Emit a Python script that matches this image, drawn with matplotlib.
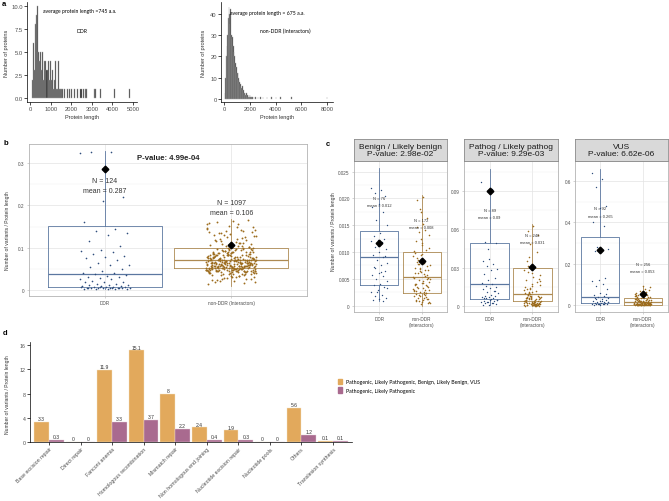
import numpy as np
import matplotlib
matplotlib.use('Agg')
import matplotlib.pyplot as plt
from matplotlib.patches import Patch

plt.rcParams['font.family'] = ['Liberation Sans', 'DejaVu Sans']

W, H = 669, 502


########################################################################
# data
########################################################################
# panel a : protein length histograms (bin start, count), bins of 50 aa
ddr_bins = [100, 150, 200, 250, 300, 350, 400, 450, 500, 550, 600, 650, 700, 750, 800,
            850, 900, 950, 1000, 1050, 1100, 1150, 1200, 1250, 1300, 1350, 1400, 1450, 1500, 1550,
            1650, 1800, 1900, 2000, 2150, 2300, 2450, 2550, 2650, 2700, 3100, 3150, 3400, 4100, 4800]
ddr_counts = [2, 6, 3, 8, 9, 10, 5, 4, 5, 3, 5, 2, 4, 4, 3,
              4, 2, 4, 2, 3, 1, 2, 4, 1, 1, 4, 1, 1, 1, 1,
              1, 1, 1, 1, 1, 1, 1, 1, 1, 1, 1, 1, 1, 1, 1]

non_bins = [50, 100, 150, 200, 250, 300, 350, 400, 450, 500, 550, 600, 650, 700, 750,
            800, 850, 900, 950, 1000, 1050, 1100, 1150, 1200, 1250, 1300, 1350, 1400, 1450, 1500,
            1550, 1600, 1650, 1700, 1750, 1800, 1850, 1900, 1950, 2000, 2050, 2100,
            2200, 2300, 2400, 2600, 2800, 3000, 3300, 3650, 4000, 4350, 5200, 7950]
non_counts = [3, 10, 20, 25, 30, 38, 43, 40, 35, 42, 30, 28, 29, 25, 22,
              20, 17, 15, 15, 12, 12, 10, 9, 8, 7, 6, 5, 6, 4, 4,
              3, 3, 2, 3, 2, 2, 1, 2, 1, 2, 1, 1,
              1, 1, 1, 1, 1, 1, 1, 1, 1, 1, 1, 1]

# panel b : variants / protein length, all classes (values x 1e-3)
b_ddr = """323 327 326 220 210 160 145 140 135 130 115 105 95 93 90 85 80 78 75 70
65 60 60 55 50 45 40 40 38 35 33 30 30 28 25 25 22 20 20 18 15 15 13 12 12 10 10 9 8 8
7 7 6 6 5 5 5 4 4 4 3 3 3 2 2 6 5 7 8 4"""
b_non = """67 45 88 102 56 71 39 94 128 61 52 83 47 76 110 58 64 91 35 73
49 142 68 55 80 97 43 62 117 74 51 86 38 69 59 105 48 77 133 65
54 92 41 70 84 57 99 46 63 120 72 53 87 36 66 79 150 44 60 95
75 50 108 42 68 81 57 125 47 73 62 89 34 55 98 70 45 113 64 52
85 40 71 59 138 48 78 66 93 53 61 44 101 69 57 82 37 74 50 119
63 88 46 58 76 96 43 67 54 131 72 49 84 60 39 107 65 51 90 56
79 42 68 155 47 74 61 87 53 100 58 45 70 115 63 83 49 66 35 94
55 78 44 62 127 71 52 86 59 41 103 67 48 75 57 91 64 146 50 73
38 81 60 111 54 69 46 97 65 53 136 77 43 62 89 56 72 104 48 66
58 85 40 74 123 51 63 95 47 70 59 80 33 68 109 55 76 45 92 61
52 160 67 44 83 57 71 99 49 64 118 54 78 42 87 60 73 50 140 65
56 96 46 69 82 53 112 62 75 39 90 58 66 48 121 72 55 84 51 63
27 31 22 18 25 29 14 33 21 26 30 24 16 28 19 32 23 165 152 158
143 135 148 162 130 126 139 144 156 134
64 58 71 49 83 55 77 62 44 90 68 52 73 60 47 86 57 66 41 79
54 70 63 48 95 59 75 51 67 43 82 61 56 72 46 88 65 53 78 50"""
b_stats = {'DDR': dict(q1=0.007, med=0.038, q3=0.151, whislo=0.002, whishi=0.329, mean=0.287, n=124),
           'non': dict(q1=0.052, med=0.071, q3=0.099, whislo=0.010, whishi=0.168, mean=0.106, n=1097)}
b_pvalue = '4.99e-04'

# panel c : per class (values x 1e-3)
c_titles = ['Benign / Likely benign', 'Pathog / Likely pathog', 'VUS']
c_pvalues = ['2.98e-02', '9.29e-03', '6.62e-06']
c_ddr = [
    """22 21.5 21 20.5 19 18.5 17.5 16 15 13.5 13 12.5 12.2 12 11.8 11 10.5 10 9.5 9 8.5 8 7.5 7
    6.5 6 5.8 5.5 5 4.5 4 3.8 3.5 3 2.5 2 1.8 1.5 1.2 1 0.8 2.5 3.2 6.2 7.2 9.2 11.2""",
    """97 92 50 49 37 35 33 31 29 28 25 22 20 18 17 16 15 14 13 12 11 10 9 8 8 7 7 6 6 5 5
    4 4 3 3 2 2 1.5 1 1 2.5 3.5 4.5 5.5 6.5 12 45""",
    """640 610 570 480 470 400 380 280 270 265 260 130 120 115 100 90 75 60 50 45 40 35 30 28
    25 20 18 15 13 12 10 9 8 7 6 5 4 3 2 1 4 6 12 20 35 55""",
]
c_non = [
    """5.4 2.1 8.9 1.3 12.5 3.8 6.7 0.9 4.4 15.2 2.7 7.3 1.8 10.1 5.9 3.2 0.4 9.6 6.1 2.3 13.8 4.9
    1.1 8.2 3.6 17.4 5.1 2.9 7.8 0.7 11.3 4.1 1.6 6.4 9.2 2.5 14.6 3.4 0.3 7.1 5.6 1.9 10.8 4.6
    2.2 16.3 6.9 3.0 1.4 8.6 5.2 0.6 12.1 3.9 2.6 7.5 4.3 19.8 1.2 6.3 9.9 2.0 4.8 13.2 3.3 0.8
    5.7 18.1 2.8 8.0 1.5 6.6 11.7 4.0 2.4 7.7 0.5 20.3 3.5 5.0 9.4 1.7 14.1 6.0 2.9 4.2 1.0 10.4 7.0 3.1""",
    """2.1 0.5 8.4 1.3 15.6 4.2 0.8 11.2 3.1 22.5 6.3 1.0 5.5 28.4 0.3 9.1 2.6 17.3 4.8 0.6 13.5 7.2
    1.9 35.2 3.6 0.4 10.2 5.1 2.3 19.8 0.9 6.8 42.1 1.5 12.4 3.3 8.9 0.2 25.7 4.5 1.2 7.6 16.1 2.8
    0.7 55.3 5.9 3.9 1.1 9.8 21.4 0.5 6.1 2.4 14.2 4.0 1.7 31.6 8.2 3.0 0.3 11.9 5.3 1.4 62.7 2.0
    18.5 7.0 0.9 4.6 26.9 1.8 10.6 3.5 0.6 48.2 6.5 2.2 13.1 0.4 8.0 4.3 1.6 38.4 5.7 2.7 20.6 0.8
    9.5 3.7 1.3 58.9 7.4 2.5 15.0 0.2 6.0 24.3 4.1 1.0""",
    """3.2 12.5 0.8 25.1 6.4 41.3 1.9 18.7 9.2 2.6 33.8 14.1 0.5 52.6 7.3 21.9 4.4 1.2 29.5 11.0
    68.2 3.8 16.3 0.9 37.4 8.6 2.1 24.2 5.5 85.1 13.6 1.5 45.9 19.4 7.9 0.4 31.2 10.3 3.0 58.7
    22.8 6.1 1.1 15.2 39.6 4.9 0.7 27.3 9.7 2.4 74.5 17.5 5.8 1.6 35.1 12.0 0.3 48.4 20.6 8.1
    2.9 63.3 14.8 4.2 1.0 26.4 10.9 0.6 43.7 6.7 18.1 2.2 90.2 30.5 7.5 1.4 23.0 11.8 3.5 0.2
    55.0 16.9 5.2 1.8 38.8 13.2 0.9 28.1 8.8 3.3 79.6 21.5 6.6 1.3 46.5 15.7 4.6 0.5 33.0 10.0""",
]
c_stats_ddr = [dict(q1=0.0039, med=0.0091, q3=0.0140, whislo=0.0009, whishi=0.0257, mean=0.0117, n=76),
               dict(q1=0.0055, med=0.0172, q3=0.0493, whislo=0.0005, whishi=0.107, mean=0.090, n=89),
               dict(q1=0.010, med=0.038, q3=0.329, whislo=0.001, whishi=0.659, mean=0.265, n=92)]
c_stats_non = [dict(q1=0.0023, med=0.0054, q3=0.0100, whislo=0.0, whishi=0.0207, mean=0.0083, n=172),
               dict(q1=0.0040, med=0.0094, q3=0.0298, whislo=0.0, whishi=0.064, mean=0.0305, n=248),
               dict(q1=0.0, med=0.013, q3=0.035, whislo=0.0, whishi=0.090, mean=0.053, n=256)]
c_mean_txt_ddr = ['0.012', '0.09', '0.265']
c_mean_txt_non = ['0.008', '0.031', '0.053']

# panel d : variants / protein length per pathway
pathways = ['Base excision repair', 'Direct repair', 'Fanconi anemia', 'Homologous recombination',
            'Mismatch repair', 'Non homologous end joining', 'Nucleotide excision repair',
            'Nucleotide pools', 'Others', 'Translesion synthesis']
all_classes = [3.3, 0, 11.9, 15.1, 8, 2.4, 1.9, 0, 5.6, 0.1]
path_classes = [0.3, 0, 3.3, 3.7, 2.2, 0.4, 0.3, 0, 1.2, 0.1]


########################################################################
# helpers
########################################################################
fig = plt.figure(figsize=(W / 100, H / 100), dpi=100)


def px_axes(x0, y0, x1, y1):
    return fig.add_axes([x0 / W, 1 - y1 / H, (x1 - x0) / W, (y1 - y0) / H])


def ftext(x, y, s, **kw):
    fig.text(x / W, 1 - y / H, s, **kw)


def parse(s):
    return np.array([float(v) for v in s.split()]) / 1000.0


def jitter(n, spread=0.4):
    return ((np.arange(n) * 0.6180339) % 1 - 0.5) * spread


def classic(ax):
    for k in ['top', 'right']:
        ax.spines[k].set_visible(False)
    for k in ['left', 'bottom']:
        ax.spines[k].set_linewidth(0.5)
    ax.tick_params(length=2, width=0.5, labelsize=4.2, labelcolor='#4d4d4d', pad=1)


def light(ax, yt, ylab, ylim, minor, xlabels, lsize):
    ax.set_xlim(0.4, 2.6)
    ax.set_ylim(*ylim)
    ax.set_yticks(yt)
    ax.set_yticklabels(ylab)
    ax.set_yticks(minor, minor=True)
    ax.set_xticks([1, 2])
    ax.set_xticklabels(xlabels)
    ax.grid(which='major', color='#e3e3e3', lw=0.5)
    ax.grid(which='minor', color='#f0f0f0', lw=0.35)
    ax.set_axisbelow(True)
    for s in ax.spines.values():
        s.set_color('#b3b3b3')
        s.set_linewidth(0.6)
    ax.tick_params(which='both', length=1.5, width=0.4, color='#b3b3b3', labelsize=lsize,
                   labelcolor='#4d4d4d', pad=1.5)
    ax.tick_params(which='minor', length=0)


ddr_box = '#5b77a0'
non_box = '#ad8a52'
ddr_pt = '#2f4e7c'
non_pt = '#9c6c1e'


def draw_boxes(ax, vals_ddr, vals_non, st_ddr, st_non, psize):
    for pos, st, col in [(1, st_ddr, ddr_box), (2, st_non, non_box)]:
        s = dict(q1=st['q1'], med=st['med'], q3=st['q3'], whislo=st['whislo'],
                 whishi=st['whishi'], fliers=[])
        ax.bxp([s], positions=[pos], widths=0.9, showcaps=False, showfliers=False,
               boxprops=dict(color=col, lw=0.6), whiskerprops=dict(color=col, lw=0.6),
               medianprops=dict(color=col, lw=0.9), manage_ticks=False)
    ax.scatter(1 + jitter(len(vals_ddr)), vals_ddr, s=psize, c=ddr_pt, lw=0, zorder=3)
    ax.scatter(2 + jitter(len(vals_non)), vals_non, s=psize * 1.3, c=non_pt, lw=0, zorder=3)
    ax.plot([1, 2], [st_ddr['mean'], st_non['mean']], ls='none', marker='D', ms=3.4,
            color='black', zorder=4)


########################################################################
# panel a
########################################################################
ax = px_axes(27, 3, 137, 103)
ax.bar(ddr_bins, ddr_counts, width=50, align='edge', color='#2e2e2e', edgecolor='#a6a6a6', lw=0.3)
ax.set_xlim(-146, 5194)
ax.set_ylim(-0.43, 10.43)
ax.set_xticks([0, 1000, 2000, 3000, 4000, 5000])
ax.set_yticks([0, 2.5, 5, 7.5, 10])
ax.set_yticklabels(['0.0', '2.5', '5.0', '7.5', '10.0'])
classic(ax)
ftext(43, 11, 'average protein length =745 a.a.', fontsize=3.7, va='center', family=['Lato', 'DejaVu Sans'])
ftext(82, 32, 'DDR', fontsize=3.7, va='center', ha='center', family=['Lato', 'DejaVu Sans'])
ftext(82, 118, 'Protein length', fontsize=4, ha='center', va='center', color='#333333')
ftext(7, 53, 'Number of proteins', fontsize=4, rotation=90, ha='center', va='center', color='#333333')

ax = px_axes(221, 3, 333, 103)
ax.bar(non_bins, non_counts, width=50, align='edge', color='#2e2e2e', edgecolor='#a6a6a6', lw=0.3)
ax.set_xlim(-233, 8450)
ax.set_ylim(-1.4, 45.5)
ax.set_xticks([0, 2000, 4000, 6000, 8000])
ax.set_yticks([0, 10, 20, 30, 40])
classic(ax)
ftext(230, 13, 'average protein length = 675 a.a.', fontsize=3.7, va='center', family=['Lato', 'DejaVu Sans'])
ftext(285, 31, 'non-DDR (Interactors)', fontsize=3.7, va='center', ha='center', family=['Lato', 'DejaVu Sans'])
ftext(277, 118, 'Protein length', fontsize=4, ha='center', va='center', color='#333333')
ftext(203, 53, 'Number of proteins', fontsize=4, rotation=90, ha='center', va='center', color='#333333')

ftext(2, 4, 'a', fontsize=5.5, weight='bold', va='center')

########################################################################
# panel b
########################################################################
ax = px_axes(29, 145, 307, 297)
light(ax, [0, 0.1, 0.2, 0.3], ['0', '0.1', '0.2', '0.3'], (-0.014, 0.345),
      [0.05, 0.15, 0.25], ['DDR', 'non-DDR (Interactors)'], 3.4)
draw_boxes(ax, parse(b_ddr), parse(b_non), b_stats['DDR'], b_stats['non'], 1.4)
ax.text(1.5, 0.312, 'P-value: ' + b_pvalue, ha='center', va='center', fontsize=5.6, weight='bold', color='#222222')
ax.text(1, 0.258, 'N = %d' % b_stats['DDR']['n'], ha='center', va='center', fontsize=5, color='#333333', zorder=5)
ax.text(1, 0.234, 'mean = %.3f' % b_stats['DDR']['mean'], ha='center', va='center', fontsize=5, color='#333333', zorder=5)
ax.text(2, 0.208, 'N = %d' % b_stats['non']['n'], ha='center', va='center', fontsize=5, color='#333333', zorder=5)
ax.text(2, 0.184, 'mean = %.3f' % b_stats['non']['mean'], ha='center', va='center', fontsize=5, color='#333333', zorder=5)
ftext(8, 231, 'Number of variants / Protein length', fontsize=3.6, rotation=90, ha='center', va='center', color='#333333')
ftext(4, 144, 'b', fontsize=5.5, weight='bold', va='center')

########################################################################
# panel c
########################################################################
facet_x = [(354, 447), (464, 558), (575, 668)]
c_ylims = [(-0.0012, 0.027), (-0.0047, 0.1136), (-0.034, 0.697)]
c_yticks = [[0, 0.005, 0.01, 0.015, 0.02, 0.025], [0, 0.03, 0.06, 0.09], [0, 0.2, 0.4, 0.6]]
c_ylabels = [['0', '0.005', '0.010', '0.015', '0.020', '0.025'], ['0', '0.03', '0.06', '0.09'],
             ['0', '0.2', '0.4', '0.6']]
c_minor = [[0.0025, 0.0075, 0.0125, 0.0175, 0.0225], [0.015, 0.045, 0.075, 0.105], [0.1, 0.3, 0.5]]
c_txt_y = [(0.0200, 0.0187, 0.0160, 0.0147), (0.0752, 0.0697, 0.0556, 0.0501), (0.470, 0.431, 0.199, 0.165)]

for i, (x0, x1) in enumerate(facet_x):
    ax = px_axes(x0, 162, x1, 313)
    light(ax, c_yticks[i], c_ylabels[i], c_ylims[i], c_minor[i], ['DDR', 'non-DDR\n(Interactors)'], 3.3)
    draw_boxes(ax, parse(c_ddr[i]), parse(c_non[i]), c_stats_ddr[i], c_stats_non[i], 1.0)
    ty = c_txt_y[i]
    kw = dict(ha='center', va='center', fontsize=2.9, color='#333333', zorder=5)
    ax.text(1, ty[0], 'N = %d' % c_stats_ddr[i]['n'], **kw)
    ax.text(1, ty[1], 'mean = ' + c_mean_txt_ddr[i], **kw)
    ax.text(2, ty[2], 'N = %d' % c_stats_non[i]['n'], **kw)
    ax.text(2, ty[3], 'mean = ' + c_mean_txt_non[i], **kw)

    sax = px_axes(x0, 140, x1, 162)
    sax.set_facecolor('#d9d9d9')
    sax.set_xticks([])
    sax.set_yticks([])
    for s in sax.spines.values():
        s.set_color('#8c8c8c')
        s.set_linewidth(0.6)
    sax.text(0.5, 0.5, c_titles[i] + '\nP-value: ' + c_pvalues[i], ha='center', va='center',
             fontsize=6, linespacing=1.0, color='#1a1a1a', transform=sax.transAxes)

ftext(334, 232, 'Number of variants / Protein length', fontsize=3.6, rotation=90, ha='center', va='center', color='#333333')
ftext(326, 145, 'c', fontsize=5.5, weight='bold', va='center')

########################################################################
# panel d
########################################################################
ax = px_axes(30, 343, 352, 443)
xs = np.arange(1, len(pathways) + 1)
orange = '#e2a95c'
purple = '#a96a8f'
ax.bar(xs - 0.235, all_classes, width=0.47, color=orange, edgecolor='#f5e3c8', lw=0.3)
ax.bar(xs + 0.235, path_classes, width=0.47, color=purple, edgecolor='#e6d0dc', lw=0.3)
for x, v in zip(xs, all_classes):
    ax.text(x - 0.235, v + 0.15, '%g' % v, ha='center', va='bottom', fontsize=3.6, color='#333333')
for x, v in zip(xs, path_classes):
    ax.text(x + 0.235, v + 0.15, '%g' % v, ha='center', va='bottom', fontsize=3.6, color='#333333')
ax.set_xlim(0.4, 10.6)
ax.set_ylim(0, 16.5)
ax.set_yticks([0, 4, 8, 12, 16])
ax.set_xticks(xs)
ax.set_xticklabels(pathways, rotation=45, ha='right', rotation_mode='anchor')
classic(ax)
ax.tick_params(labelsize=3.8)
ax.legend(handles=[Patch(color=orange, label='Pathogenic, Likely Pathogenic, Benign, Likely Benign, VUS'),
                   Patch(color=purple, label='Pathogenic, Likely Pathogenic')],
          loc='upper left', bbox_to_anchor=(335 / W, 1 - 377 / H), bbox_transform=fig.transFigure,
          frameon=False, handlelength=0.8, handleheight=1.2, handletextpad=0.7,
          labelspacing=0.6, borderpad=0, prop={'family': ['Lato', 'DejaVu Sans'], 'size': 3.8})
ftext(8, 395, 'Number of variants / Protein length', fontsize=3.6, rotation=90, ha='center', va='center', color='#333333')
ftext(3, 334, 'd', fontsize=5.5, weight='bold', va='center')

fig.savefig('out.png', dpi=100)
